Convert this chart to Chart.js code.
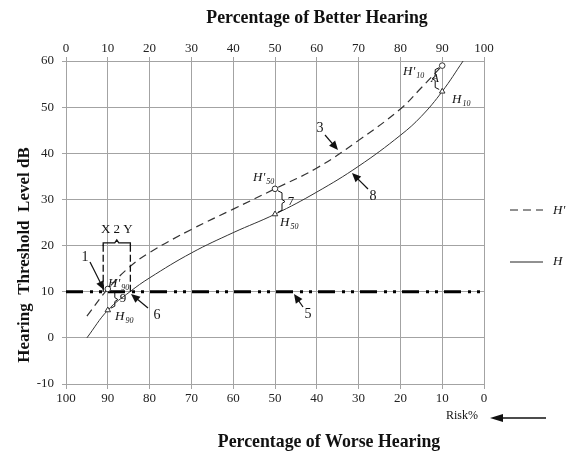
<!DOCTYPE html>
<html>
<head>
<meta charset="utf-8">
<script src="https://cdn.jsdelivr.net/npm/chart.js@4.4.1/dist/chart.umd.min.js"></script>
<style>
  html, body { margin: 0; padding: 0; background: #fff; }
  #wrap { width: 568px; height: 457px; position: relative; }
</style>
</head>
<body>
<div id="wrap"><canvas id="chart"></canvas></div>
<script>
// percentage of better hearing (top axis) and threshold level dB
const betterPct = [0, 10, 20, 30, 40, 50, 60, 70, 80, 90, 100];
const worsePct = [100, 90, 80, 70, 60, 50, 40, 30, 20, 10, 0];
const levelTicks = [-10, 0, 10, 20, 30, 40, 50, 60];

// H' (dashed) curve
const hPrimeX = [5, 10, 15, 20, 30, 40, 50, 60, 70, 80, 85, 90];
const hPrimeY = [4.7, 10.6, 15.2, 18.5, 23.5, 27.9, 32.3, 36.8, 42.8, 49.6, 54.2, 59];

// H (solid) curve
const hX = [5, 10, 15.3, 20, 30, 40, 50, 60, 70, 80, 85, 90, 95];
const hY = [0, 6, 10, 13, 18.4, 22.8, 26.8, 31.6, 37.2, 43.9, 48, 53.4, 60];

// marked points H'90, H'50, H'10 and H90, H50, H10
const markPct = [10, 50, 90];
const markPrime = [10.6, 32.3, 59];
const markH = [6, 26.8, 53.4];

// reference level (dash-dot line)
const refLevel = 10;

const serif = "'Liberation Serif', 'Times New Roman', serif";
const gridColor = '#a3a3a3';

function pts(xs, ys) {
  return xs.map((v, i) => ({ x: v, y: ys[i] }));
}

function arrow(ctx, x1, y1, x2, y2, head, half, width) {
  const a = Math.atan2(y2 - y1, x2 - x1);
  ctx.lineWidth = width;
  ctx.beginPath();
  ctx.moveTo(x1, y1);
  ctx.lineTo(x2 - Math.cos(a) * head * 0.8, y2 - Math.sin(a) * head * 0.8);
  ctx.stroke();
  ctx.beginPath();
  ctx.moveTo(x2, y2);
  ctx.lineTo(x2 - Math.cos(a) * head + Math.sin(a) * half, y2 - Math.sin(a) * head - Math.cos(a) * half);
  ctx.lineTo(x2 - Math.cos(a) * head - Math.sin(a) * half, y2 - Math.sin(a) * head + Math.cos(a) * half);
  ctx.closePath();
  ctx.fill();
}

// brace between two points; dir = 1 right, -1 left
function brace(ctx, x, yTop, yBot, dir) {
  const mid = (yTop + yBot) / 2;
  ctx.lineWidth = 1;
  ctx.beginPath();
  ctx.moveTo(x + dir * 2, yTop);
  ctx.lineTo(x + dir * 6, yTop + 2);
  ctx.lineTo(x + dir * 6, mid - 2);
  ctx.lineTo(x + dir * 9, mid);
  ctx.lineTo(x + dir * 6, mid + 2);
  ctx.lineTo(x + dir * 6, yBot - 2);
  ctx.lineTo(x + dir * 2, yBot);
  ctx.stroke();
}

function hLabel(ctx, x, y, prime, sub) {
  ctx.textAlign = 'left';
  ctx.textBaseline = 'middle';
  ctx.font = 'italic 13px ' + serif;
  const main = prime ? "H'" : 'H';
  ctx.fillText(main, x, y);
  const w = ctx.measureText(main).width;
  ctx.font = 'italic 8px ' + serif;
  ctx.fillText(sub, x + w + 1, y + 4);
}

const annotations = {
  id: 'annotations',
  afterDraw(chart) {
    const ctx = chart.ctx;
    const xs = chart.scales.x, ys = chart.scales.y;
    const px = v => xs.getPixelForValue(v);
    const py = v => ys.getPixelForValue(v);
    ctx.save();
    ctx.fillStyle = '#111';
    ctx.strokeStyle = '#111';

    // titles
    ctx.textAlign = 'center';
    ctx.textBaseline = 'middle';
    ctx.font = 'bold 17.8px ' + serif;
    ctx.fillText('Percentage of Better Hearing', 317, 18);
    ctx.fillText('Percentage of Worse Hearing', 329, 442);
    ctx.save();
    ctx.translate(25, 255);
    ctx.rotate(-Math.PI / 2);
    ctx.font = 'bold 17px ' + serif;
    ctx.fillText('Hearing  Threshold  Level dB', 0, 0);
    ctx.restore();

    // Risk% with arrow
    ctx.font = '12px ' + serif;
    ctx.textAlign = 'left';
    ctx.fillText('Risk%', 446, 416);
    arrow(ctx, 546, 418, 490, 418, 13, 4, 1.5);

    // legend
    ctx.lineWidth = 1;
    ctx.strokeStyle = '#222';
    ctx.setLineDash([8, 5]);
    ctx.beginPath(); ctx.moveTo(510, 210); ctx.lineTo(543, 210); ctx.stroke();
    ctx.setLineDash([]);
    ctx.beginPath(); ctx.moveTo(510, 262); ctx.lineTo(543, 262); ctx.stroke();
    ctx.font = 'italic 13px ' + serif;
    ctx.fillText("H'", 553, 211);
    ctx.fillText('H', 553, 262);

    // braces between H' and H markers
    ctx.strokeStyle = '#111';
    brace(ctx, px(markPct[0]) + 1, py(markPrime[0]) + 2, py(markH[0]) - 2, 1);
    brace(ctx, px(markPct[1]) + 1, py(markPrime[1]) + 2, py(markH[1]) - 2, 1);
    brace(ctx, px(markPct[2]) - 1, py(markPrime[2]) + 2, py(markH[2]) - 2, -1);

    // point labels
    hLabel(ctx, 253, 178, true, '50');
    hLabel(ctx, 280, 223, false, '50');
    hLabel(ctx, 403, 72, true, '10');
    hLabel(ctx, 452, 100, false, '10');
    hLabel(ctx, 108, 284, true, '90');
    hLabel(ctx, 115, 317, false, '90');

    ctx.font = '13px ' + serif;
    ctx.textAlign = 'center';
    ctx.fillText('7', 291, 202);
    ctx.fillText('9', 123, 299);
    ctx.font = 'italic 13px ' + serif;
    ctx.fillText('A', 435, 79);

    // X 2 Y bracket
    const xl = px(8.9), xr = px(15.4), yt = py(20.6), yb = py(refLevel);
    ctx.lineWidth = 1.3;
    ctx.setLineDash([7, 3]);
    ctx.beginPath();
    ctx.moveTo(xl, yb); ctx.lineTo(xl, yt + 2);
    ctx.moveTo(xr, yb); ctx.lineTo(xr, yt + 2);
    ctx.stroke();
    ctx.setLineDash([]);
    const xm = (xl + xr) / 2;
    ctx.beginPath();
    ctx.moveTo(xl, yt + 3);
    ctx.lineTo(xl, yt);
    ctx.lineTo(xm - 2, yt);
    ctx.lineTo(xm, yt - 3);
    ctx.lineTo(xm + 2, yt);
    ctx.lineTo(xr, yt);
    ctx.lineTo(xr, yt + 3);
    ctx.stroke();
    ctx.font = '13px ' + serif;
    ctx.fillText('X 2 Y', xm, yt - 13);

    // numbered callouts
    ctx.font = '14px ' + serif;
    ctx.fillText('1', 85, 257);
    arrow(ctx, 90, 262, 104, 290, 9, 4, 1.2);
    ctx.fillText('6', 157, 315);
    arrow(ctx, 148, 308, 131, 294, 9, 4, 1.2);
    ctx.fillText('5', 308, 314);
    arrow(ctx, 303, 307, 294, 294, 9, 4, 1.2);
    ctx.fillText('3', 320, 128);
    arrow(ctx, 325, 135, 338, 150, 9, 4, 1.2);
    ctx.fillText('8', 373, 196);
    arrow(ctx, 368, 189, 352, 173, 9, 4, 1.2);

    ctx.restore();
  }
};

const tickFont = { family: serif, size: 13 };

new Chart(document.getElementById('chart'), {
  type: 'line',
  data: {
    datasets: [
      {
        label: 'ref',
        data: [{ x: 0, y: refLevel }, { x: 100, y: refLevel }],
        borderColor: '#000',
        borderWidth: 3,
        borderDash: [17, 7, 3, 6, 3, 6],
        pointRadius: 0,
        order: 3
      },
      {
        label: "H'",
        data: pts(hPrimeX, hPrimeY),
        borderColor: '#333',
        borderWidth: 1.2,
        borderDash: [8, 5],
        tension: 0.4,
        pointRadius: 0,
        order: 2
      },
      {
        label: 'H',
        data: pts(hX, hY),
        borderColor: '#333',
        borderWidth: 1,
        tension: 0.4,
        pointRadius: 0,
        order: 2
      },
      {
        label: "H' marks",
        data: pts(markPct, markPrime),
        showLine: false,
        pointStyle: 'circle',
        pointRadius: 2.8,
        pointBackgroundColor: '#fff',
        pointBorderColor: '#333',
        pointBorderWidth: 1,
        order: 1
      },
      {
        label: 'H marks',
        data: pts(markPct, markH),
        showLine: false,
        pointStyle: 'triangle',
        pointRadius: 3.2,
        pointBackgroundColor: '#fff',
        pointBorderColor: '#333',
        pointBorderWidth: 1,
        order: 1
      }
    ]
  },
  options: {
    responsive: true,
    maintainAspectRatio: false,
    animation: false,
    layout: { padding: { left: 0, right: 84, top: 0, bottom: 0 } },
    plugins: { legend: { display: false }, tooltip: { enabled: false }, title: { display: false } },
    scales: {
      x: {
        type: 'linear',
        position: 'top',
        min: 0,
        max: 100,
        afterBuildTicks: s => { s.ticks = betterPct.map(v => ({ value: v })); },
        ticks: { font: tickFont, color: '#222', padding: 1, maxRotation: 0 },
        grid: { color: gridColor, tickLength: 4 },
        border: { color: gridColor },
        afterFit: s => { s.height = 61; }
      },
      x2: {
        type: 'linear',
        position: 'bottom',
        reverse: true,
        min: 0,
        max: 100,
        afterBuildTicks: s => { s.ticks = worsePct.map(v => ({ value: v })); },
        ticks: { font: tickFont, color: '#222', padding: 2, maxRotation: 0 },
        grid: { drawOnChartArea: false, color: gridColor, tickLength: 5 },
        border: { color: gridColor },
        afterFit: s => { s.height = 73; }
      },
      y: {
        type: 'linear',
        min: -10,
        max: 60,
        afterBuildTicks: s => { s.ticks = levelTicks.map(v => ({ value: v })); },
        ticks: { font: tickFont, color: '#222', padding: 8 },
        grid: { color: gridColor, tickLength: 4 },
        border: { color: gridColor },
        afterFit: s => { s.width = 66; }
      }
    }
  },
  plugins: [annotations]
});
</script>
</body>
</html>
